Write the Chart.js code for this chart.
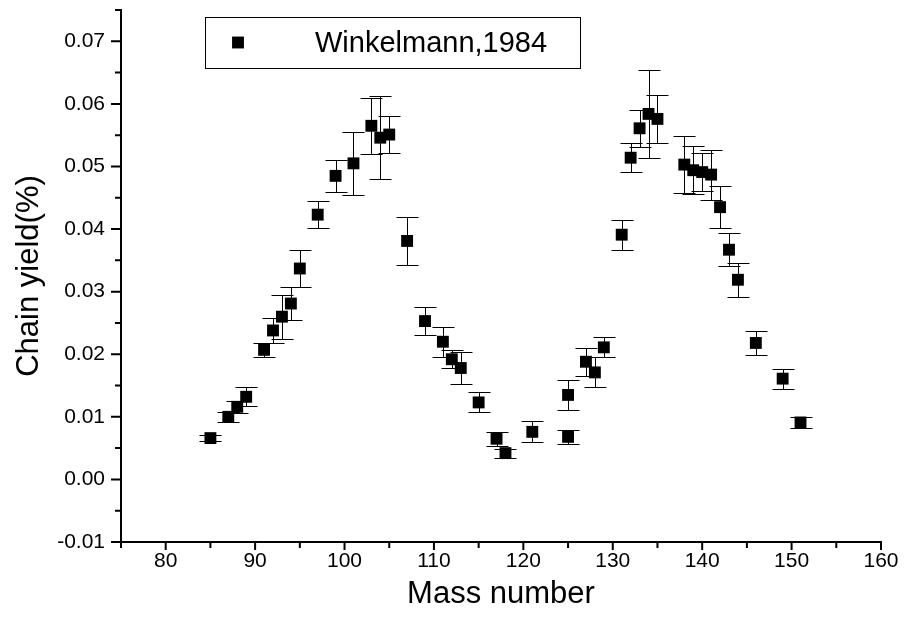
<!DOCTYPE html>
<html>
<head>
<meta charset="utf-8">
<script src="https://cdn.jsdelivr.net/npm/chart.js@4"></script>
<style>
  html, body { margin: 0; padding: 0; background: #fff; }
  canvas { display: block; }
</style>
</head>
<body>
<canvas id="chart" width="904" height="618"></canvas>
<script>
// values
const massNumbers = [85, 87, 88, 89, 91, 92, 93, 94, 95, 97, 99, 101, 103, 104, 105, 107, 109, 111, 112, 113, 115, 117, 118, 121, 125, 125, 127, 128, 129, 131, 132, 133, 134, 135, 138, 139, 140, 141, 142, 143, 144, 146, 149, 151];
const yields = [0.0066, 0.0100, 0.0116, 0.0132, 0.0207, 0.0238, 0.0260, 0.0281, 0.0337, 0.0423, 0.0485, 0.0505, 0.0565, 0.0546, 0.0551, 0.0381, 0.0253, 0.0220, 0.0192, 0.0178, 0.0123, 0.0065, 0.0042, 0.0076, 0.0135, 0.0068, 0.0188, 0.0171, 0.0211, 0.0391, 0.0514, 0.0561, 0.0584, 0.0576, 0.0503, 0.0494, 0.0491, 0.0487, 0.0435, 0.0367, 0.0319, 0.0218, 0.0161, 0.0091];
const yieldErrors = [0.0005, 0.0008, 0.0010, 0.0015, 0.0011, 0.0020, 0.0035, 0.0027, 0.0030, 0.0022, 0.0025, 0.0050, 0.0045, 0.0066, 0.0030, 0.0038, 0.0022, 0.0024, 0.0014, 0.0025, 0.0016, 0.0011, 0.0007, 0.0017, 0.0024, 0.0011, 0.0022, 0.0024, 0.0016, 0.0024, 0.0023, 0.0030, 0.0070, 0.0038, 0.0046, 0.0038, 0.0030, 0.0040, 0.0033, 0.0026, 0.0027, 0.0019, 0.0016, 0.0009];
const seriesLabel = 'Winkelmann,1984';
const xLabelStep = 10;   // labelled ticks, minor ticks every 5
const yLabelStep = 0.01; // labelled ticks, minor ticks every 0.005

const FONT = "'Liberation Sans', Arial, sans-serif";

const points = massNumbers.map((m, i) => ({x: m, y: yields[i]}));

function isMajor(v, step) {
    const r = v / step;
    return Math.abs(r - Math.round(r)) < 1e-6;
}

// vertical error bars with caps, drawn through the scales
const errorBars = {
    id: 'errorBars',
    beforeDatasetsDraw(chart) {
        const {ctx, scales: {x, y}} = chart;
        ctx.save();
        ctx.strokeStyle = '#000';
        ctx.lineWidth = 1;
        points.forEach((p, i) => {
            const px = Math.round(x.getPixelForValue(p.x)) + 0.5;
            const top = Math.round(y.getPixelForValue(p.y + yieldErrors[i])) + 0.5;
            const bot = Math.round(y.getPixelForValue(p.y - yieldErrors[i])) + 0.5;
            ctx.beginPath();
            ctx.moveTo(px, top); ctx.lineTo(px, bot);
            ctx.moveTo(px - 11, top); ctx.lineTo(px + 11, top);
            ctx.moveTo(px - 11, bot); ctx.lineTo(px + 11, bot);
            ctx.stroke();
        });
        ctx.restore();
    }
};

// major / minor outward tick marks
const axisTicks = {
    id: 'axisTicks',
    afterDraw(chart) {
        const {ctx, chartArea, scales: {x, y}} = chart;
        ctx.save();
        ctx.strokeStyle = '#000';
        ctx.lineWidth = 2;
        ctx.beginPath();
        x.ticks.forEach(t => {
            const px = x.getPixelForValue(t.value);
            const len = isMajor(t.value, xLabelStep) ? 8 : 6;
            ctx.moveTo(px, chartArea.bottom); ctx.lineTo(px, chartArea.bottom + len);
        });
        y.ticks.forEach(t => {
            const py = y.getPixelForValue(t.value);
            const len = isMajor(t.value, yLabelStep) ? 10 : 6;
            ctx.moveTo(chartArea.left, py); ctx.lineTo(chartArea.left - len, py);
        });
        ctx.stroke();
        ctx.restore();
    }
};

// boxed legend inside the plot area
const boxLegend = {
    id: 'boxLegend',
    afterDraw(chart) {
        const {ctx, chartArea} = chart;
        const ds = chart.data.datasets[0];
        const left = chartArea.left + 84, top = chartArea.top + 7;
        const w = 375, h = 51;
        ctx.save();
        ctx.fillStyle = '#fff';
        ctx.fillRect(left, top, w, h);
        ctx.strokeStyle = '#000';
        ctx.lineWidth = 1;
        ctx.strokeRect(left + 0.5, top + 0.5, w, h);
        Chart.helpers.drawPoint(ctx, {
            pointStyle: ds.pointStyle, radius: ds.pointRadius, borderWidth: 0
        }, left + 33, top + h / 2);
        ctx.fillStyle = '#000';
        ctx.fill();
        ctx.font = '29px ' + FONT;
        ctx.textBaseline = 'middle';
        ctx.fillText(ds.label, left + 110, top + h / 2 + 1);
        ctx.restore();
    }
};

const data = {
    datasets: [{
        label: seriesLabel,
        data: points,
        pointStyle: 'rect',
        pointRadius: 8.4,
        pointHoverRadius: 8.4,
        backgroundColor: '#000',
        borderColor: '#000',
        borderWidth: 0,
        showLine: false
    }]
};

const config = {
    type: 'scatter',
    data: data,
    options: {
        responsive: false,
        animation: false,
        devicePixelRatio: 1,
        layout: { padding: {top: 10, right: 23, left: 0, bottom: 0} },
        plugins: {
            legend: { display: false },
            tooltip: { enabled: false }
        },
        scales: {
            x: {
                type: 'linear',
                min: 75,
                max: 160,
                afterFit: s => { s.height = 76; s.paddingLeft = 0; s.paddingRight = 0; },
                border: { display: true, color: '#000', width: 2 },
                grid: { drawOnChartArea: false, drawTicks: true, tickLength: 8, color: 'rgba(0,0,0,0)' },
                ticks: {
                    stepSize: 5,
                    autoSkip: false,
                    maxRotation: 0,
                    padding: -1,
                    color: '#000',
                    font: { family: FONT, size: 21 },
                    callback: v => isMajor(v, xLabelStep) ? String(v) : ''
                },
                title: {
                    display: true,
                    text: 'Mass number',
                    color: '#000',
                    font: { family: FONT, size: 31 },
                    padding: { top: 0, bottom: 5 }
                }
            },
            y: {
                type: 'linear',
                min: -0.01,
                max: 0.075,
                afterFit: s => { s.width = 121; s.paddingTop = 0; s.paddingBottom = 0; },
                border: { display: true, color: '#000', width: 2 },
                grid: { drawOnChartArea: false, drawTicks: true, tickLength: 10, color: 'rgba(0,0,0,0)' },
                ticks: {
                    stepSize: 0.005,
                    autoSkip: false,
                    padding: 6,
                    color: '#000',
                    font: { family: FONT, size: 21 },
                    callback: v => isMajor(v, yLabelStep) ? (Math.abs(v) < 1e-9 ? 0 : v).toFixed(2) : ''
                },
                title: {
                    display: true,
                    text: 'Chain yield(%)',
                    color: '#000',
                    font: { family: FONT, size: 31 },
                    padding: { top: 11, bottom: 0 }
                }
            }
        }
    },
    plugins: [errorBars, axisTicks, boxLegend]
};

var chartElem = new Chart(
    document.getElementById('chart'),
    config
);
</script>
</body>
</html>
